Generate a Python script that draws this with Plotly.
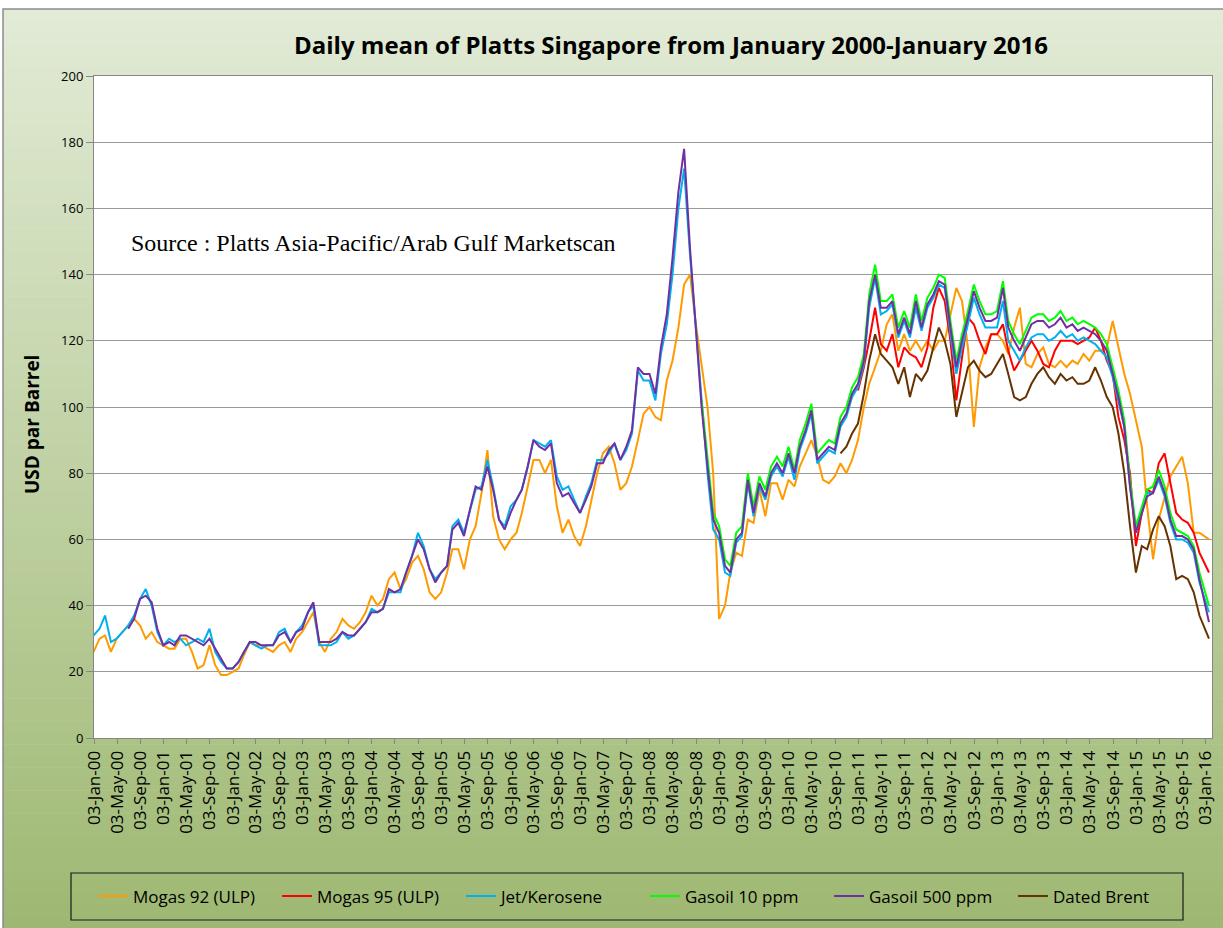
import pandas as pd
import plotly.graph_objects as go

# ---------------- data (monthly readings from the chart) ----------------
mogas92_start = "2000-01-01"
mogas92 = [
    26, 30, 31, 26, 30, 32, 34, 36, 34, 30, 32, 29,          # 2000
    28, 27, 27, 30, 30, 26, 21, 22, 28, 22, 19, 19,          # 2001
    20, 21, 25, 29, 28, 28, 27, 26, 28, 29, 26, 30,          # 2002
    32, 35, 38, 29, 26, 30, 32, 36, 34, 33, 35, 38,          # 2003
    43, 40, 42, 48, 50, 45, 48, 53, 55, 51, 44, 42,          # 2004
    44, 50, 57, 57, 51, 60, 64, 74, 87, 67, 60, 57,          # 2005
    60, 62, 68, 76, 84, 84, 80, 84, 70, 62, 66, 61,          # 2006
    58, 64, 72, 80, 86, 88, 83, 75, 77, 82, 90, 98,          # 2007
    100, 97, 96, 108, 114, 124, 137, 140, 125, 112, 100, 80, # 2008
    36, 40, 50, 56, 55, 66, 65, 75, 67, 77, 77, 72,          # 2009
    78, 76, 82, 86, 90, 85, 78, 77, 79, 83, 80, 84,          # 2010
    90, 100, 107, 112, 117, 125, 128, 117, 122, 117, 120, 117,  # 2011
    120, 117, 120, 120, 128, 136, 132, 118, 94, 112, 118, 122,  # 2012
    122, 120, 116, 124, 130, 113, 112, 116, 118, 113, 112, 114, # 2013
    112, 114, 113, 116, 114, 117, 117, 118, 126, 118, 110, 104, # 2014
    96, 88, 70, 54, 66, 73, 79, 82, 85, 77, 62, 62,          # 2015
    60,                                                      # Jan 2016
]

mogas95_start = "2011-01-01"
mogas95 = [
    105, 112, 120, 130, 119, 117, 122, 112, 118, 116, 115, 112,  # 2011
    118, 130, 136, 132, 120, 102, 115, 127, 125, 120, 116, 122,  # 2012
    122, 125, 117, 111, 114, 117, 120, 117, 113, 112, 117, 120,  # 2013
    120, 120, 119, 120, 121, 124, 120, 114, 110, 97, 90, 80,     # 2014
    58, 68, 75, 74, 83, 86, 77, 68, 66, 65, 62, 56,              # 2015
    50,                                                          # Jan 2016
]

jet_start = "2000-01-01"
jet = [
    31, 33, 37, 29, 30, 32, 34, 37, 42, 45, 40, 32,          # 2000
    28, 30, 29, 30, 28, 29, 30, 29, 33, 26, 23, 21,          # 2001
    21, 23, 26, 29, 28, 27, 28, 28, 32, 33, 29, 32,          # 2002
    34, 38, 40, 28, 28, 28, 29, 32, 30, 31, 33, 35,          # 2003
    39, 38, 39, 44, 44, 44, 50, 55, 62, 58, 51, 48,          # 2004
    50, 52, 64, 66, 62, 69, 75, 76, 84, 76, 66, 64,          # 2005
    70, 72, 75, 82, 90, 89, 88, 90, 79, 75, 76, 72,          # 2006
    68, 73, 77, 84, 84, 86, 89, 84, 87, 92, 111, 108,        # 2007
    108, 102, 116, 125, 140, 160, 172, 146, 124, 100, 80, 63,  # 2008
    60, 50, 49, 59, 61, 77, 67, 76, 72, 79, 82, 79,          # 2009
    85, 78, 87, 92, 98, 83, 85, 87, 86, 94, 97, 103,         # 2010
    106, 113, 130, 139, 128, 129, 131, 121, 126, 121, 130, 123,  # 2011
    130, 133, 137, 136, 122, 110, 118, 125, 133, 128, 124, 124,  # 2012
    124, 132, 120, 117, 114, 118, 121, 122, 122, 120, 121, 123,  # 2013
    121, 122, 120, 121, 120, 119, 117, 115, 109, 102, 94, 76,    # 2014
    63, 69, 74, 74, 78, 73, 65, 60, 60, 59, 56, 47,          # 2015
    38,                                                      # Jan 2016
]

gasoil10_start = "2008-10-01"
gasoil10 = [
    102, 84, 68,                                             # 2008
    64, 54, 52, 62, 64, 80, 70, 79, 75, 82, 85, 82,          # 2009
    88, 81, 90, 95, 101, 86, 88, 90, 89, 97, 100, 106,       # 2010
    109, 116, 134, 143, 132, 132, 134, 124, 129, 124, 134, 126,  # 2011
    133, 136, 140, 139, 126, 114, 122, 129, 137, 132, 128, 128,  # 2012
    129, 138, 126, 122, 119, 123, 127, 128, 128, 126, 127, 129,  # 2013
    126, 127, 125, 126, 125, 124, 122, 119, 112, 105, 96, 78,    # 2014
    64, 70, 75, 76, 81, 76, 68, 63, 62, 61, 58, 50,          # 2015
    40,                                                      # Jan 2016
]

gasoil500_start = "2000-07-01"
gasoil500 = [
    33, 36, 42, 43, 41, 33,                                  # 2000
    28, 29, 28, 31, 31, 30, 29, 28, 30, 27, 24, 21,          # 2001
    21, 23, 26, 29, 29, 28, 28, 28, 31, 32, 29, 32,          # 2002
    33, 38, 41, 29, 29, 29, 30, 32, 31, 31, 33, 35,          # 2003
    38, 38, 39, 45, 44, 45, 50, 55, 60, 57, 51, 47,          # 2004
    50, 52, 63, 65, 61, 69, 76, 75, 82, 75, 66, 63,          # 2005
    68, 72, 75, 82, 90, 88, 87, 89, 77, 73, 74, 71,          # 2006
    68, 72, 76, 83, 83, 87, 89, 84, 88, 93, 112, 110,        # 2007
    110, 104, 118, 128, 145, 165, 178, 148, 125, 100, 82, 66,  # 2008
    62, 52, 50, 60, 62, 78, 68, 77, 73, 80, 83, 80,          # 2009
    86, 80, 88, 93, 99, 84, 86, 88, 87, 95, 98, 104,         # 2010
    107, 114, 132, 140, 130, 130, 132, 122, 127, 122, 132, 124,  # 2011
    131, 134, 138, 137, 124, 112, 120, 127, 135, 130, 126, 126,  # 2012
    127, 136, 124, 120, 117, 121, 125, 126, 126, 124, 125, 127,  # 2013
    124, 125, 123, 124, 123, 122, 120, 117, 110, 103, 94, 76,    # 2014
    62, 68, 73, 74, 79, 74, 66, 61, 61, 60, 57, 48,          # 2015
    35,                                                      # Jan 2016
]

brent_start = "2010-10-01"
brent = [
    86, 88, 92,                                              # 2010
    95, 104, 114, 122, 116, 114, 112, 107, 112, 103, 110, 108,   # 2011
    111, 118, 124, 120, 113, 97, 104, 112, 114, 111, 109, 110,   # 2012
    113, 116, 110, 103, 102, 103, 107, 110, 112, 109, 107, 110,  # 2013
    108, 109, 107, 107, 108, 112, 108, 103, 100, 92, 80, 64,     # 2014
    50, 58, 57, 63, 67, 64, 58, 48, 49, 48, 44, 37,          # 2015
    30,                                                      # Jan 2016
]

last_date = "2016-01-20"

tick_dates = [f"{y}-{m:02d}-03" for y in range(2000, 2017) for m in (1, 5, 9)
              if not (y == 2016 and m > 1)]
tick_text = [pd.Timestamp(d).strftime("%d-%b-%y") for d in tick_dates]

series = [
    ("Mogas 92 (ULP)", mogas92_start, mogas92, "#FF9A00"),
    ("Mogas 95 (ULP)", mogas95_start, mogas95, "#FF0000"),
    ("Jet/Kerosene", jet_start, jet, "#00B0F0"),
    ("Gasoil 10 ppm", gasoil10_start, gasoil10, "#00FF00"),
    ("Gasoil 500 ppm", gasoil500_start, gasoil500, "#7030A0"),
    ("Dated Brent", brent_start, brent, "#663300"),
]


def dates_for(start, values):
    d = list(pd.date_range(start, periods=len(values) - 1, freq="MS").strftime("%Y-%m-%d"))
    return d + [last_date]


fig = go.Figure()
for name, start, vals, color in series:
    fig.add_trace(go.Scatter(
        x=dates_for(start, vals), y=vals, mode="lines", name=name,
        line=dict(color=color, width=2),
    ))

# ---------------- layout ----------------
W, H = 1223, 928
L, R, T, B = 94, 11, 76, 190
pw, ph = W - L - R, H - T - B


def px(x):
    return (x - L) / pw


def py(y):
    return (H - B - y) / ph


shapes = []
# gradient background
top_c = (226, 235, 214)
bot_c = (158, 184, 114)
nb = 80
y0, y1 = 9, H
for i in range(nb):
    a = y0 + (y1 - y0) * i / nb
    b = y0 + (y1 - y0) * (i + 1) / nb + 0.6
    t = (i + 0.5) / nb
    c = tuple(int(round(top_c[k] + (bot_c[k] - top_c[k]) * t)) for k in range(3))
    shapes.append(dict(type="rect", xref="paper", yref="paper", layer="below",
                       x0=px(3), x1=px(W + 2), y0=py(a), y1=py(b),
                       line=dict(width=0), fillcolor=f"rgb{c}"))
# outer border of chart area
shapes.append(dict(type="rect", xref="paper", yref="paper", layer="below",
                   x0=px(3), x1=px(W + 5), y0=py(9), y1=py(H + 5),
                   line=dict(color="#8c8c8c", width=1.5), fillcolor="rgba(0,0,0,0)"))
# white plot area
shapes.append(dict(type="rect", xref="paper", yref="paper", layer="below",
                   x0=0, x1=1, y0=0, y1=1, line=dict(width=0), fillcolor="white"))
# legend frame
shapes.append(dict(type="rect", xref="paper", yref="paper", layer="above",
                   x0=px(71), x1=px(1183), y0=py(873), y1=py(920),
                   line=dict(color="#1a1a1a", width=1.2), fillcolor="rgba(0,0,0,0)"))

fig.update_layout(
    width=W, height=H,
    margin=dict(l=L, r=R, t=T, b=B, autoexpand=False),
    paper_bgcolor="white",
    plot_bgcolor="white",
    font=dict(family="Open Sans, sans-serif", color="#000000"),
    title=dict(
        text="<b>Daily mean of Platts Singapore from January 2000-January 2016</b>",
        x=671 / W, xanchor="center", y=1 - 46 / H, yanchor="middle",
        yref="container", xref="container",
        font=dict(family="Open Sans, sans-serif", size=24, color="#000000"),
    ),
    showlegend=True,
    legend=dict(
        orientation="h", x=px(645), xanchor="center", y=py(896.5), yanchor="middle",
        bgcolor="rgba(0,0,0,0)", borderwidth=0,
        font=dict(family="Open Sans, sans-serif", size=17, color="#000000"),
        entrywidth=139, entrywidthmode="pixels", itemwidth=30,
    ),
    shapes=shapes,
    annotations=[
        dict(text="Source : Platts Asia-Pacific/Arab Gulf Marketscan",
             xref="paper", yref="paper", x=px(129), y=py(243),
             xanchor="left", yanchor="middle", showarrow=False,
             font=dict(family="Liberation Serif, Times New Roman, serif", size=24, color="#000000")),
        dict(text="<b>USD par Barrel</b>", xref="paper", yref="paper",
             x=px(32), y=py(425), xanchor="center", yanchor="middle", showarrow=False,
             textangle=-90,
             font=dict(family="Open Sans, sans-serif", size=19, color="#000000")),
    ],
)

fig.update_xaxes(
    type="date", range=["2000-01-03", "2016-02-05"],
    tickmode="array", tickvals=tick_dates, ticktext=tick_text, tickangle=-90,
    tickfont=dict(family="Open Sans, sans-serif", size=17, color="#000000"),
    ticks="outside", ticklen=5, tickcolor="#868686",
    showline=True, linecolor="#868686", linewidth=1, mirror=True,
    showgrid=False, zeroline=False,
)
fig.update_yaxes(
    range=[0, 200], dtick=20, tick0=0,
    tickfont=dict(family="Open Sans, sans-serif", size=13, color="#000000"),
    ticks="outside", ticklen=7, tickcolor="#868686",
    showline=True, linecolor="#868686", linewidth=1, mirror=True,
    showgrid=True, gridcolor="#999999", gridwidth=1, zeroline=False,
)

fig.write_html("out.html", config={"displayModeBar": False},
               post_script="document.body.style.margin='0px';")
